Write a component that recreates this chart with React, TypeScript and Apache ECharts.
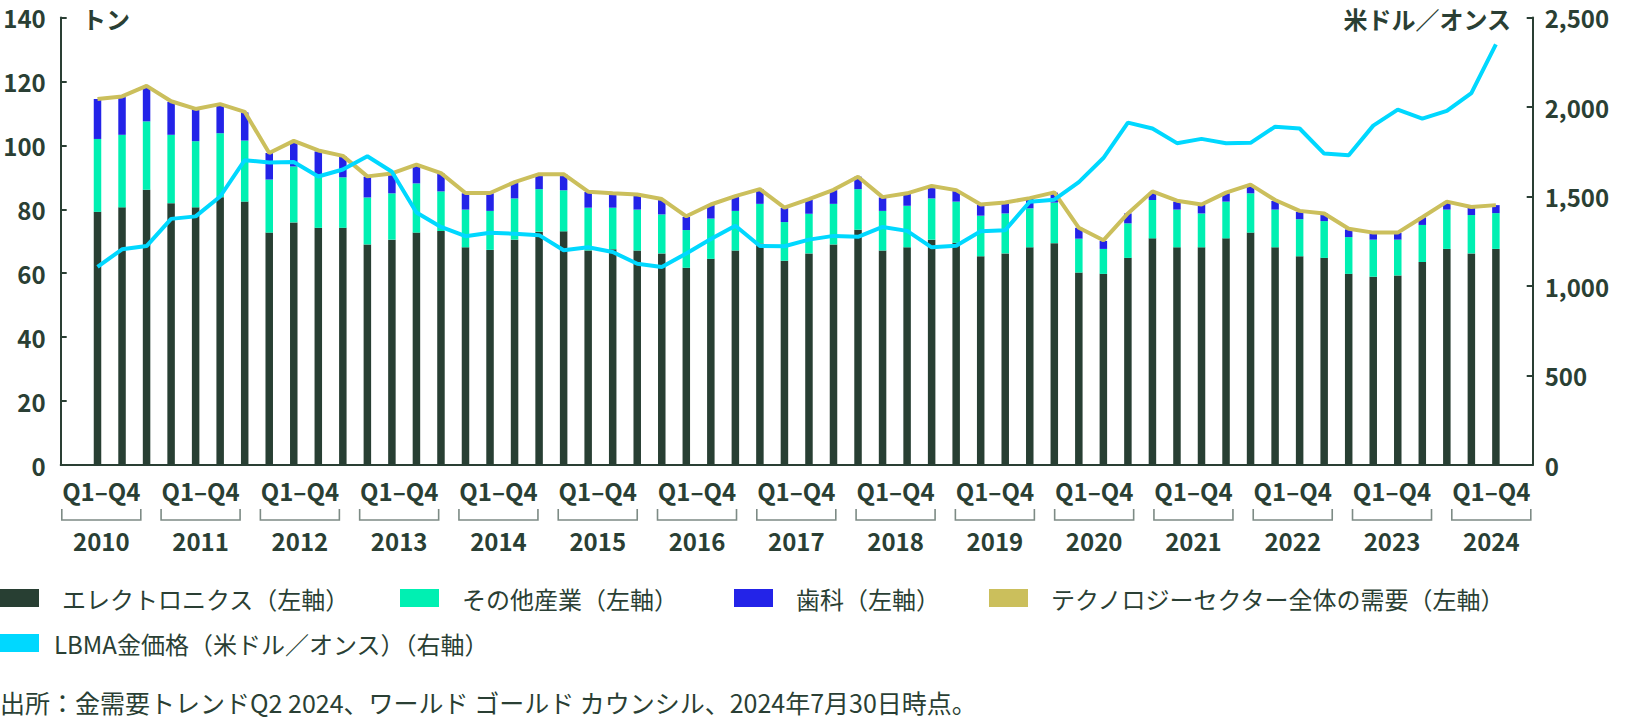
import React, { useEffect, useRef } from "react";
import * as echarts from "echarts";

const years = ["2010","2011","2012","2013","2014","2015","2016","2017","2018","2019","2020","2021","2022","2023","2024"];
const quarterNames = ["Q1","Q2","Q3","Q4"];

const electronics = [
  79.2, 80.6, 86.1, 81.9,
  80.6, 83.8, 82.4, 72.7,
  75.9, 74.2, 74.2, 69.0,
  70.5, 72.7, 73.2, 68.1,
  67.3, 70.5, 73.0, 73.1,
  67.1, 67.5, 67.1, 66.2,
  61.7, 64.5, 67.1, 69.3,
  63.9, 66.2, 69.0, 73.6,
  67.1, 68.1, 70.5, 69.5,
  65.3, 66.2, 68.1, 69.4,
  60.2, 59.8, 64.8, 70.9,
  68.1, 68.1, 70.9, 72.7,
  68.1, 65.3, 64.8, 59.8,
  58.9, 59.3, 63.5, 67.6,
  66.2, 67.6,
];

const otherIndustrial = [
  22.8, 22.7, 21.4, 21.4,
  20.7, 20.0, 19.1, 16.6,
  17.5, 16.2, 15.8, 14.7,
  14.5, 15.4, 12.4, 11.8,
  12.2, 12.9, 13.3, 12.85,
  13.4, 13.0, 12.8, 12.2,
  11.8, 12.6, 12.4, 12.4,
  12.1, 12.4, 12.7, 12.7,
  12.4, 13.0, 12.9, 12.9,
  12.7, 12.5, 12.2, 12.7,
  10.6, 7.8, 10.8, 12.0,
  11.8, 10.6, 11.5, 12.3,
  11.8, 11.6, 11.5, 11.5,
  11.6, 11.2, 11.6, 12.3,
  12.0, 11.2,
];

const dental = [
  12.5, 11.8, 10.8, 10.3,
  10.0, 8.8, 8.8, 8.3,
  7.8, 7.7, 6.6, 6.5,
  6.2, 5.6, 5.6, 5.1,
  5.5, 4.9, 4.6, 4.95,
  4.9, 4.0, 4.3, 4.5,
  4.1, 4.3, 4.4, 4.6,
  4.4, 4.4, 4.3, 3.9,
  4.2, 3.8, 3.6, 3.3,
  3.4, 3.2, 2.9, 3.1,
  3.4, 2.5, 3.1, 2.3,
  2.5, 2.7, 2.6, 2.5,
  2.7, 2.3, 2.4, 2.4,
  2.1, 2.1, 2.4, 2.4,
  2.4, 2.5,
];

const techTotal = [
  114.5, 115.3, 118.6, 113.8,
  111.4, 112.9, 110.5, 97.6,
  101.4, 98.4, 96.7, 90.3,
  91.2, 94.0, 91.3, 85.1,
  85.1, 88.5, 91.0, 91.0,
  85.5, 85.0, 84.6, 83.2,
  77.8, 81.5, 84.1, 86.3,
  80.5, 83.2, 86.1, 90.2,
  83.8, 85.0, 87.3, 86.0,
  81.5, 82.1, 83.5, 85.3,
  74.2, 70.3, 78.7, 85.6,
  82.7, 81.5, 85.2, 87.7,
  82.9, 79.5, 78.7, 73.9,
  72.7, 72.7, 77.5, 82.4,
  80.7, 81.3,
];

const goldPrice = [
  1107, 1205, 1223, 1375,
  1389, 1500, 1703, 1690,
  1693, 1612, 1651, 1725,
  1638, 1411, 1330, 1278,
  1297, 1292, 1284, 1200,
  1216, 1190, 1124, 1106,
  1182, 1262, 1337, 1223,
  1222, 1259, 1280, 1275,
  1330, 1308, 1216, 1225,
  1306, 1312, 1471, 1482,
  1580, 1715, 1913, 1880,
  1798, 1822, 1797, 1800,
  1890, 1880, 1740, 1730,
  1896, 1985, 1935, 1978,
  2078, 2350,
];

const names = [
  "エレクトロニクス（左軸）",
  "その他産業（左軸）",
  "歯科（左軸）",
  "テクノロジーセクター全体の需要（左軸）",
  "LBMA金価格（米ドル／オンス）（右軸）",
];

const colors = {
  electronics: "#283f33",
  other: "#00f0b2",
  dental: "#2323e8",
  total: "#cbbf5c",
  gold: "#00d8ff",
  text: "#2a3f34",
  bracket: "#7d8b85",
};

const FONT = '"Noto Sans CJK JP", "Noto Sans", sans-serif';

export default function App() {
  const ref = useRef<HTMLDivElement>(null);
  useEffect(() => {
    if (!ref.current) return;
    const chart = echarts.init(ref.current, undefined, { renderer: "svg" });
    const quarterLabels = years.flatMap((y) => quarterNames.map((q) => y + q)).slice(0, electronics.length);
    const categories = ["", ...quarterLabels, ""];
    const pad = (arr: number[]) => [null, ...arr, null];

    const legendPositions = [
      { left: 0, top: 586, pad: 18 },
      { left: 400, top: 586, pad: 18 },
      { left: 734, top: 586, pad: 18 },
      { left: 989, top: 586, pad: 18 },
      { left: 0, top: 631, pad: 10 },
    ];

    const option: any = {
      animation: false,
      textStyle: { fontFamily: FONT },
      grid: [
        { left: 60.7, right: 93.3, top: 17.5, bottom: 257, containLabel: false },
        { left: 101.3, right: 134.7, top: 17.5, bottom: 257, containLabel: false },
      ],
      xAxis: [
        {
          type: "category",
          gridIndex: 0,
          data: categories,
          boundaryGap: true,
          axisLine: { show: true, lineStyle: { color: colors.text, width: 2 } },
          axisTick: { show: false },
          axisLabel: { show: false },
        },
        {
          type: "category",
          gridIndex: 1,
          data: years,
          boundaryGap: false,
          axisLine: { show: false },
          axisTick: { show: false },
          axisLabel: {
            show: true,
            interval: 0,
            margin: 0,
            formatter: (v: string) => `{q|Q1–Q4}\n{y|${v}}`,
            rich: {
              q: { fontSize: 24, fontWeight: "bold", color: colors.text, lineHeight: 50, fontFamily: FONT },
              y: { fontSize: 24, fontWeight: "bold", color: colors.text, lineHeight: 50, fontFamily: FONT },
            },
          },
        },
      ],
      yAxis: [
        {
          type: "value",
          gridIndex: 0,
          position: "left",
          min: 0,
          max: 140,
          interval: 20,
          axisLine: { show: true, lineStyle: { color: colors.text, width: 2 } },
          axisTick: { show: true, inside: true, length: 6, lineStyle: { color: colors.text, width: 2 } },
          splitLine: { show: false },
          axisLabel: { fontSize: 24, fontWeight: "bold", color: colors.text, margin: 15, fontFamily: FONT },
        },
        {
          type: "value",
          gridIndex: 0,
          position: "right",
          min: 0,
          max: 2500,
          interval: 500,
          axisLine: { show: true, lineStyle: { color: colors.text, width: 2 } },
          axisTick: { show: true, inside: true, length: 6, lineStyle: { color: colors.text, width: 2 } },
          splitLine: { show: false },
          axisLabel: {
            fontSize: 24,
            fontWeight: "bold",
            color: colors.text,
            margin: 12,
            fontFamily: FONT,
            formatter: (v: number) => v.toLocaleString("en-US"),
          },
        },
        {
          type: "value",
          gridIndex: 1,
          min: 0,
          max: 1,
          show: false,
        },
      ],
      legend: names.map((n, i) => ({
        data: [n],
        left: legendPositions[i].left,
        top: legendPositions[i].top,
        padding: 0,
        icon: "rect",
        itemWidth: 39,
        itemHeight: 18,
        selectedMode: false,
        textStyle: { fontSize: 24, color: colors.text, fontFamily: FONT, padding: [0, 0, 0, legendPositions[i].pad] },
      })),
      graphic: [
        {
          type: "text",
          x: 82,
          y: 18,
          style: { text: "トン", font: `bold 24px ${FONT}`, fill: colors.text, verticalAlign: "middle" },
        },
        {
          type: "text",
          x: 1511,
          y: 18,
          style: { text: "米ドル／オンス", font: `bold 24px ${FONT}`, fill: colors.text, align: "right", verticalAlign: "middle" },
        },
        {
          type: "text",
          x: 0,
          y: 702,
          style: {
            text: "出所：金需要トレンドQ2 2024、ワールド ゴールド カウンシル、2024年7月30日時点。",
            font: `25px ${FONT}`,
            fill: colors.text,
            verticalAlign: "middle",
          },
        },
      ],
      series: [
        {
          name: names[0],
          type: "bar",
          stack: "tech",
          xAxisIndex: 0,
          yAxisIndex: 0,
          barWidth: 7.5,
          itemStyle: { color: colors.electronics },
          data: pad(electronics),
        },
        {
          name: names[1],
          type: "bar",
          stack: "tech",
          xAxisIndex: 0,
          yAxisIndex: 0,
          barWidth: 7.5,
          itemStyle: { color: colors.other },
          data: pad(otherIndustrial),
        },
        {
          name: names[2],
          type: "bar",
          stack: "tech",
          xAxisIndex: 0,
          yAxisIndex: 0,
          barWidth: 7.5,
          itemStyle: { color: colors.dental },
          data: pad(dental),
        },
        {
          name: names[3],
          type: "line",
          xAxisIndex: 0,
          yAxisIndex: 0,
          symbol: "none",
          lineStyle: { color: colors.total, width: 4 },
          itemStyle: { color: colors.total },
          data: pad(techTotal),
        },
        {
          name: names[4],
          type: "line",
          xAxisIndex: 0,
          yAxisIndex: 1,
          symbol: "none",
          lineStyle: { color: colors.gold, width: 4 },
          itemStyle: { color: colors.gold },
          data: pad(goldPrice),
        },
        {
          name: "brackets",
          type: "custom",
          xAxisIndex: 1,
          yAxisIndex: 2,
          silent: true,
          clip: false,
          data: years.map((_, i) => [i, 0]),
          renderItem: (_params: any, api: any) => {
            const p = api.coord([api.value(0), 0]);
            const x = p[0];
            const y = p[1];
            const hw = 39.5;
            return {
              type: "polyline",
              shape: {
                points: [
                  [x - hw, y + 44],
                  [x - hw, y + 55],
                  [x + hw, y + 55],
                  [x + hw, y + 44],
                ],
              },
              style: { stroke: colors.bracket, lineWidth: 1.6, fill: null },
            };
          },
        },
      ],
    };
    chart.setOption(option);
    return () => chart.dispose();
  }, []);

  return (
    <div
      ref={ref}
      style={{ position: "absolute", left: 0, top: 0, width: 1626, height: 722, background: "#ffffff" }}
    />
  );
}
